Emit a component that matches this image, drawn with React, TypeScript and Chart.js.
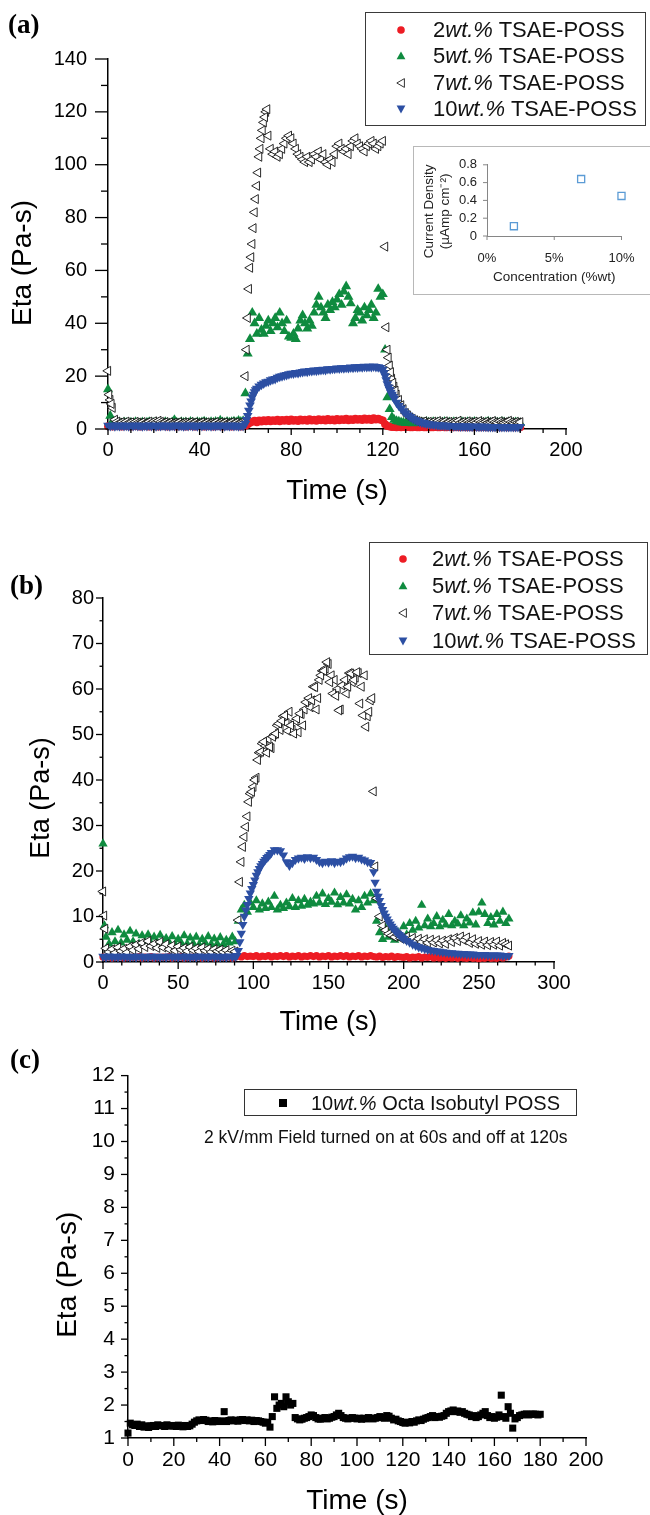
import React, { useEffect, useRef } from "react";
import { Chart, registerables } from "chart.js";

Chart.register(...registerables);

const FONT = "'Liberation Sans', Arial, Helvetica, sans-serif";
const SERIF = "'Liberation Serif', 'Times New Roman', serif";
const RED = "#ed1c24";
const GREEN = "#0f8b3f";
const BLUE = "#2c4fa3";

// ---------------- Panel (a): one sample per second, t = 0..180 s ----------------
const A_T0 = 0;
const A_STEP = 1;
const A_RED = [
  1.0,1.1,0.9,1.0,1.1,1.0,0.9,1.0,1.1,1.0,
  0.9,1.0,1.1,1.0,0.9,1.0,1.1,1.0,0.9,1.0,
  1.1,1.0,0.9,1.0,1.1,1.0,0.9,1.0,1.1,1.0,
  0.9,1.0,1.1,1.0,0.9,1.0,1.1,1.0,0.9,1.0,
  1.1,1.0,0.9,1.0,1.1,1.0,0.9,1.0,1.1,1.0,
  0.9,1.0,1.1,1.0,0.9,1.0,1.1,1.0,0.9,1.0,
  1.2,1.8,2.4,2.7,3.1,2.6,3.2,2.8,3.3,2.9,
  3.4,2.9,3.3,3.0,3.5,2.9,3.4,3.1,3.5,3.0,
  3.6,3.1,3.4,3.0,3.6,3.2,3.5,3.1,3.7,3.2,
  3.5,3.1,3.7,3.3,3.6,3.2,3.8,3.3,3.6,3.2,
  3.8,3.3,3.7,3.4,3.9,3.3,3.7,3.4,3.9,3.5,
  3.8,3.4,4.0,3.5,3.9,3.4,4.1,3.6,3.9,3.5,
  3.2,1.8,1.1,0.9,0.8,0.8,0.7,0.8,0.7,0.8,
  0.7,0.8,0.7,0.7,0.8,0.7,0.7,0.8,0.7,0.7,
  0.8,0.7,0.7,0.8,0.7,0.7,0.8,0.7,0.7,0.8,
  0.7,0.7,0.8,0.7,0.7,0.8,0.7,0.7,0.8,0.7,
  0.7,0.8,0.7,0.7,0.8,0.7,0.7,0.8,0.7,0.7,
  0.8,0.7,0.7,0.8,0.7,0.7,0.8,0.7,0.7,0.8,
  0.7,
];
const A_GREEN = [
  15.0,5.0,3.0,2.6,2.2,2.4,2.1,2.5,2.3,2.2,
  2.4,2.1,2.6,2.3,2.2,2.5,2.1,2.4,2.6,2.2,
  2.3,2.5,2.1,2.4,2.2,2.6,2.3,2.1,2.5,3.4,
  2.4,2.2,2.6,2.3,2.5,2.1,2.7,2.4,2.2,2.6,
  2.3,2.5,2.8,2.4,2.2,2.6,2.3,2.7,2.4,3.2,
  2.5,2.3,2.7,2.4,2.6,2.8,2.5,3.1,2.7,3.0,
  13.5,28.5,34.0,44.0,40.0,36.0,42.0,37.5,36.0,39.0,
  41.0,37.0,40.0,42.0,38.5,44.0,40.0,37.0,41.0,35.0,
  34.5,36.0,34.0,38.0,41.0,43.0,40.0,38.0,41.0,39.0,
  44.0,47.0,50.0,46.0,44.0,42.0,47.0,45.0,48.0,46.0,
  49.0,51.0,47.0,52.0,54.0,50.0,47.5,40.0,42.0,45.0,
  44.0,41.0,46.0,43.0,45.0,47.0,42.0,44.0,53.0,50.0,
  51.0,30.0,12.0,7.5,4.5,3.5,3.0,2.8,2.5,2.4,
  2.2,2.5,2.3,2.1,2.6,2.4,2.2,2.5,2.3,2.7,
  2.4,2.2,2.6,2.3,2.5,2.1,2.4,2.7,2.3,2.5,
  2.2,2.6,2.4,2.3,2.8,2.5,2.2,2.6,2.4,2.3,
  2.7,2.4,2.2,2.6,2.3,2.5,2.8,2.4,2.2,2.6,
  2.4,2.3,2.7,2.5,2.2,2.6,2.4,2.3,2.5,2.4,
  2.2,
];
const A_BLACK = [
  22.0,11.0,8.0,3.5,2.8,2.4,2.6,2.3,2.8,2.4,
  2.5,2.2,2.7,2.4,2.3,2.6,2.2,2.5,2.8,2.4,
  2.9,2.6,3.1,2.7,2.4,2.6,2.3,2.5,2.2,2.4,
  2.3,2.6,2.2,2.5,2.4,2.2,2.6,2.3,2.5,2.2,
  2.4,2.6,2.3,2.5,2.2,2.4,2.3,2.6,2.2,2.5,
  2.3,2.5,2.2,2.4,2.6,2.3,2.5,2.2,2.4,2.3,
  20,42,61,70,82,92,103,110,116,120,
  111,106,104,105,103,104,106,108,110,111,
  110,108,106,104,103,102,101,103,101,102,
  104,103,105,102,104,101,100,102,101,104,
  107,108,106,105,106,104,107,109,110,108,
  107,106,105,107,108,109,108,106,107,108,
  109,69,30,24,19,16,13,11,9,7.5,
  6.0,5.0,4.3,3.8,3.3,3.0,2.8,2.6,2.9,2.5,
  2.7,2.4,2.8,2.5,3.0,2.6,2.4,2.9,2.5,2.7,
  2.4,2.8,2.6,3.1,2.5,2.7,2.4,2.9,2.6,2.5,
  2.8,2.5,3.0,2.6,2.4,2.8,2.5,2.7,3.0,2.6,
  2.4,2.9,2.6,2.5,2.8,3.1,2.6,2.4,2.7,2.5,
  2.6,
];
const A_BLACK_EXTRA_T = [0.5,1.5,60.5,61.5,62.5,63.5,64.5,65.5,66.5,67.5,68.5,69.5,121.5,122.5,123.5,124.5,125.5];
const A_BLACK_EXTRA = [13.0,9.5,30,53,65,76,87,97,106,113,118,121,38.5,27,21.5,17.5,14.5];
const A_BLUE = [
  1.3,1.2,1.4,1.1,1.3,1.2,1.4,1.2,1.3,1.1,
  1.3,1.2,1.4,1.2,1.3,1.1,1.3,1.2,1.4,1.2,
  1.3,1.1,1.3,1.2,1.4,1.2,1.3,1.1,1.3,1.2,
  1.4,1.2,1.3,1.1,1.3,1.2,1.4,1.2,1.3,1.1,
  1.3,1.2,1.4,1.2,1.3,1.1,1.3,1.2,1.4,1.2,
  1.3,1.1,1.3,1.2,1.4,1.2,1.3,1.1,1.3,1.2,
  2.0,5.0,9.0,12.0,14.0,15.3,16.2,16.8,17.3,17.8,
  18.0,18.5,18.8,19.0,19.5,19.8,20.0,20.3,20.5,20.8,
  21.0,21.0,21.3,21.2,21.5,21.6,21.8,21.7,22.0,22.0,
  22.2,22.1,22.3,22.4,22.5,22.4,22.7,22.6,22.8,22.8,
  23.0,22.9,23.1,23.0,23.2,23.1,23.3,23.2,23.4,23.3,
  23.5,23.4,23.6,23.5,23.6,23.5,23.7,23.5,23.4,23.2,
  22.5,20.0,17.0,14.8,13.0,11.5,10.0,8.8,7.8,6.8,
  6.0,5.2,4.6,4.0,3.5,3.1,2.8,2.5,2.3,2.1,
  1.9,1.8,1.7,1.6,1.5,1.4,1.4,1.3,1.3,1.2,
  1.2,1.1,1.1,1.1,1.0,1.0,1.0,1.0,0.9,0.9,
  0.9,0.9,0.9,0.9,0.9,0.9,0.8,0.8,0.8,0.8,
  0.8,0.8,0.8,0.8,0.8,0.8,0.8,0.8,0.8,0.8,
  0.8,
];
const A_BLUE_EXTRA_T = [60.5,61.5,62.5,63.5,64.5,120.5,121.5,122.5,123.5,124.5];
const A_BLUE_EXTRA = [3.5,7.0,10.5,13.0,14.7,21.3,18.5,15.8,13.8,12.2];

// Inset of panel (a)
const INSET_CONC = [2, 7, 10];
const INSET_DENSITY = [0.11, 0.64, 0.45];

// ---------------- Panel (b): one sample every 2 s, t = 0..270 s ----------------
const B_T0 = 0;
const B_STEP = 2;
const B_RED = [
  1.1,1.0,1.2,0.9,1.1,1.0,1.2,0.9,1.1,1.0,
  1.1,1.0,1.2,0.9,1.1,1.0,1.2,0.9,1.1,1.0,
  1.1,1.0,1.2,0.9,1.1,1.0,1.2,0.9,1.1,1.0,
  1.1,1.0,1.2,0.9,1.1,1.0,1.2,0.9,1.1,1.0,
  1.1,1.0,1.2,0.9,1.1,1.3,1.1,1.4,1.2,1.3,
  1.2,1.4,1.1,1.3,1.2,1.4,1.1,1.3,1.2,1.4,
  1.2,1.4,1.1,1.3,1.2,1.4,1.1,1.3,1.2,1.4,
  1.2,1.4,1.1,1.3,1.2,1.4,1.1,1.3,1.2,1.4,
  1.2,1.4,1.1,1.3,1.2,1.4,1.1,1.3,1.2,1.4,
  1.2,1.1,1.3,1.0,1.2,1.1,1.3,1.0,1.2,1.1,
  1.0,1.2,0.9,1.1,1.0,1.2,0.9,1.1,1.0,1.2,
  0.9,1.1,0.9,1.0,0.8,1.0,0.9,1.1,0.8,1.0,
  0.9,0.8,1.0,0.8,0.9,0.7,0.9,0.8,1.0,0.8,
  0.9,0.8,1.0,0.9,1.1,1.3,
];
const B_GREEN = [
  26.0,5.5,4.0,6.5,4.5,7.0,4.2,6.0,4.8,6.8,
  4.5,6.2,4.0,5.8,4.3,6.0,4.1,5.5,4.4,5.9,
  4.0,5.2,4.3,5.6,3.9,5.0,4.2,5.8,4.0,5.3,
  4.1,5.5,3.8,5.0,4.2,5.6,3.9,5.1,4.0,5.4,
  3.9,4.8,4.2,5.5,4.5,9.0,11.5,12.5,11.0,13.0,
  12.0,13.5,11.5,12.8,11.8,13.2,12.0,14.5,11.5,12.5,
  11.8,13.0,12.2,14.0,12.0,13.5,12.3,13.8,12.5,13.2,
  12.8,14.5,13.0,15.0,12.7,14.0,13.2,15.2,12.6,14.2,
  13.0,14.8,12.8,13.8,11.5,13.5,12.0,14.5,13.0,15.0,
  13.5,9.0,6.5,5.0,7.5,5.5,7.0,4.8,6.5,5.2,
  7.8,6.0,8.5,7.0,9.0,7.5,12.5,8.0,9.5,7.8,
  8.5,10.0,7.8,9.2,8.2,10.5,8.0,9.0,8.4,10.2,
  8.0,9.5,8.6,10.8,8.2,11.0,13.0,10.5,8.5,9.8,
  8.2,10.5,9.0,11.0,8.5,9.5,
];
const B_GREEN_EXTRA_T = [1];
const B_GREEN_EXTRA = [8.0];
const B_BLACK = [
  15.5,3.0,2.2,2.8,2.0,3.2,2.4,2.9,2.1,3.4,
  2.6,3.8,2.9,4.2,3.3,4.6,3.5,4.0,3.1,4.4,
  3.2,3.9,2.8,3.6,2.5,3.4,2.7,3.1,2.4,3.3,
  2.6,3.0,2.3,3.2,2.5,2.9,2.2,2.8,2.4,2.7,
  2.2,2.6,2.0,2.5,2.3,9.2,22.0,27.5,32.0,37.0,
  38.5,40.5,46.0,48.0,47.5,49.0,47.0,50.0,52.0,51.0,
  54.0,52.5,55.0,51.0,53.0,50.5,54.5,55.5,57.0,56.0,
  60.5,55.5,62.0,64.0,64.5,65.5,63.0,62.0,60.0,55.5,
  61.0,59.0,63.5,61.5,62.5,63.5,60.5,63.0,54.0,57.5,
  37.5,14.0,10.0,8.0,7.0,6.2,5.8,5.5,6.0,5.2,
  5.0,5.6,4.8,5.3,4.6,5.1,4.4,5.0,4.2,4.9,
  4.3,4.8,4.1,4.7,4.0,5.0,4.4,5.3,4.6,5.6,
  4.8,5.4,4.2,5.0,4.0,4.6,3.8,4.5,3.7,4.4,
  3.8,4.5,3.6,4.2,3.9,3.6,
];
// odd-second readings of the 7wt.% series during the field-on period (t = 91, 93, ... 181 s)
const B_BLACK_ODD_T0 = 91;
const B_BLACK_ODD = [
  17.6,25.3,29.7,35.2,37.4,40.0,44.4,46.2,48.4,46.0,
  47.3,49.5,50.2,52.4,53.0,54.2,50.8,52.0,50.2,53.5,
  54.6,52.0,57.1,58.0,57.5,60.4,58.0,63.0,64.0,65.9,
  61.5,59.0,58.5,55.3,60.8,62.0,60.5,63.4,62.0,63.7,
  56.8,54.2,51.7,55.0,58.0,21.0,
];
const B_BLACK_START_T = [0.7, 1.4];
const B_BLACK_START = [10.2, 7.3];
const B_BLUE = [
  1.2,1.0,1.3,1.1,1.2,1.0,1.3,1.1,1.2,1.0,
  1.2,1.0,1.3,1.1,1.2,1.0,1.3,1.1,1.2,1.0,
  1.2,1.0,1.3,1.1,1.2,1.0,1.3,1.1,1.2,1.0,
  1.2,1.0,1.3,1.1,1.2,1.0,1.3,1.1,1.2,1.0,
  1.2,1.0,1.3,1.1,1.2,2.5,6.3,10.0,12.6,15.1,
  17.0,19.0,20.5,21.6,22.5,23.2,24.0,24.6,24.6,24.4,
  23.5,22.0,21.2,21.8,22.5,22.8,23.0,22.7,23.1,22.9,
  23.0,22.5,22.0,21.8,22.1,21.9,22.2,21.8,22.1,22.0,
  22.3,22.8,23.1,23.2,22.9,23.0,22.6,22.4,22.0,21.8,
  19.8,15.5,13.5,11.5,10.0,8.8,7.8,7.0,6.3,5.7,
  5.1,4.7,4.3,3.9,3.6,3.3,3.1,2.9,2.7,2.6,
  2.5,2.4,2.3,2.2,2.1,2.0,2.0,1.9,1.9,1.8,
  1.8,1.7,1.7,1.7,1.6,1.6,1.6,1.6,1.5,1.5,
  1.5,1.5,1.5,1.4,1.4,1.4,
];
const B_BLUE_RISE_T0 = 89; // odd seconds 89..111
const B_BLUE_RISE = [1.4,4.4,8.2,11.4,13.9,16.1,18.0,19.8,21.1,22.1,22.9,23.6];
const B_BLUE_FALL_T0 = 181; // odd seconds 181..199
const B_BLUE_FALL = [17.5,14.4,12.4,10.7,9.4,8.3,7.4,6.6,6.0,5.4];

// ---------------- Panel (c): one sample per second, t = 0..180 s ----------------
const C_T0 = 0;
const C_STEP = 1;
const C_OCTA = [
  1.15,1.45,1.40,1.38,1.42,1.35,1.40,1.33,1.37,1.32,
  1.36,1.38,1.35,1.40,1.37,1.38,1.35,1.40,1.36,1.38,
  1.37,1.35,1.39,1.36,1.34,1.38,1.35,1.37,1.42,1.48,
  1.52,1.55,1.53,1.56,1.54,1.50,1.52,1.49,1.53,1.51,
  1.50,1.52,1.80,1.50,1.53,1.55,1.52,1.54,1.51,1.55,
  1.56,1.53,1.55,1.52,1.54,1.50,1.53,1.52,1.50,1.48,
  1.45,1.48,1.33,1.65,2.25,1.90,2.00,2.05,1.95,2.25,
  2.10,2.00,2.05,1.62,1.58,1.55,1.57,1.60,1.62,1.65,
  1.70,1.68,1.62,1.58,1.57,1.60,1.62,1.58,1.60,1.63,
  1.65,1.70,1.75,1.68,1.62,1.60,1.58,1.60,1.62,1.60,
  1.58,1.60,1.57,1.60,1.58,1.62,1.60,1.58,1.60,1.62,
  1.65,1.62,1.60,1.68,1.66,1.60,1.55,1.57,1.52,1.50,
  1.47,1.45,1.48,1.46,1.50,1.48,1.52,1.55,1.53,1.57,
  1.60,1.62,1.65,1.68,1.62,1.65,1.63,1.66,1.68,1.75,
  1.80,1.82,1.85,1.80,1.82,1.78,1.80,1.75,1.72,1.70,
  1.65,1.68,1.62,1.65,1.70,1.75,1.80,1.68,1.62,1.65,
  1.60,1.63,1.70,2.30,1.65,1.60,1.95,1.75,1.30,1.58,
  1.62,1.68,1.70,1.72,1.73,1.70,1.72,1.73,1.72,1.70,
  1.72,
];

const LEGEND_TSAE = ["2", "5", "7", "10"];

// ---------------- helpers ----------------
type Pt = { x: number; y: number };
const seq = (t0: number, step: number, vals: number[]): Pt[] =>
  vals.map((v, i) => ({ x: t0 + i * step, y: v }));
const pairs = (ts: number[], vs: number[]): Pt[] => ts.map((t, i) => ({ x: t, y: vs[i] }));

type Sizes = { red: number; green: number; black: number; blue: number };

const axisTicksPlugin = {
  id: "axisTicks",
  afterDraw(chart: any, _args: any, opts: any) {
    const { ctx, chartArea } = chart;
    ctx.save();
    ctx.strokeStyle = opts.color;
    ctx.lineWidth = opts.width;
    ["x", "y"].forEach((id) => {
      const spec = opts[id];
      const scale = chart.scales[id];
      if (!spec || !scale) return;
      const n = Math.round((spec.max - spec.min) / spec.minor);
      for (let i = 0; i <= n; i++) {
        const v = spec.min + i * spec.minor;
        const k = (v - spec.min) / spec.major;
        const isMajor = Math.abs(k - Math.round(k)) < 1e-6;
        const len = isMajor ? spec.majorLen : spec.minorLen;
        const p = scale.getPixelForValue(v);
        ctx.beginPath();
        if (id === "x") {
          ctx.moveTo(p, chartArea.bottom);
          ctx.lineTo(p, chartArea.bottom + len);
        } else {
          ctx.moveTo(chartArea.left, p);
          ctx.lineTo(chartArea.left - len, p);
        }
        ctx.stroke();
      }
    });
    ctx.restore();
  },
};

const rotTitlePlugin = {
  id: "rotTitle",
  afterDraw(chart: any, _args: any, opts: any) {
    const { ctx, chartArea } = chart;
    ctx.save();
    ctx.fillStyle = opts.color;
    ctx.font = `${opts.size}px ${FONT}`;
    const cy = (chartArea.top + chartArea.bottom) / 2 + opts.dy;
    ctx.translate(opts.x, cy);
    ctx.rotate(-Math.PI / 2);
    ctx.textAlign = "center";
    ctx.textBaseline = "middle";
    const lines: string[] = opts.lines;
    for (let i = 0; i < lines.length; i++) ctx.fillText(lines[i], 0, i * opts.lineHeight);
    ctx.restore();
  },
};

type AxisSpec = {
  min: number; max: number; major: number; minor: number; majorLen: number; minorLen: number;
  pad: number; size: number; lineHeight?: number; format?: (v: number) => string;
};
type PanelSpec = {
  left: number; top: number; width: number; height: number;
  area: { left: number; top: number; right: number; bottom: number };
  x: AxisSpec; y: AxisSpec;
  xTitle: { text: string; size: number; padBottom: number };
  yTitle: { lines: string[]; size: number; lineHeight: number; x: number; dy: number };
  axisColor: string; labelColor: string; axisWidth: number; tickWidth: number;
  datasets: any[];
};

function buildConfig(p: PanelSpec): any {
  const a = p.area;
  const tickOpts = (s: AxisSpec) => ({
    stepSize: s.major,
    padding: s.pad,
    autoSkip: false,
    maxRotation: 0,
    minRotation: 0,
    color: p.labelColor,
    font: { family: FONT, size: s.size, lineHeight: s.lineHeight ?? 1.2 },
    callback: s.format ? (v: any) => s.format!(Number(v)) : undefined,
  });
  return {
    type: "scatter",
    data: { datasets: p.datasets },
    plugins: [axisTicksPlugin, rotTitlePlugin],
    options: {
      responsive: false,
      animation: false,
      devicePixelRatio: 1,
      events: [],
      layout: { padding: { left: 0, top: a.top - p.top, right: p.left + p.width - a.right, bottom: 0 } },
      plugins: {
        legend: { display: false },
        tooltip: { enabled: false },
        axisTicks: {
          color: p.axisColor,
          width: p.tickWidth,
          x: { min: p.x.min, max: p.x.max, major: p.x.major, minor: p.x.minor, majorLen: p.x.majorLen, minorLen: p.x.minorLen },
          y: { min: p.y.min, max: p.y.max, major: p.y.major, minor: p.y.minor, majorLen: p.y.majorLen, minorLen: p.y.minorLen },
        },
        rotTitle: { ...p.yTitle, color: p.labelColor },
      },
      scales: {
        x: {
          type: "linear",
          position: "bottom",
          min: p.x.min,
          max: p.x.max,
          grid: { display: false, drawTicks: false },
          border: { display: true, color: p.axisColor, width: p.axisWidth },
          ticks: tickOpts(p.x),
          title: {
            display: true,
            text: p.xTitle.text,
            color: p.labelColor,
            font: { family: FONT, size: p.xTitle.size, lineHeight: 1 },
            padding: { top: 0, bottom: p.xTitle.padBottom },
          },
          afterFit: (s: any) => { s.height = p.top + p.height - a.bottom; },
        },
        y: {
          type: "linear",
          position: "left",
          min: p.y.min,
          max: p.y.max,
          grid: { display: false, drawTicks: false },
          border: { display: true, color: p.axisColor, width: p.axisWidth },
          ticks: tickOpts(p.y),
          title: { display: false },
          afterFit: (s: any) => { s.width = a.left - p.left; },
        },
      },
    },
  };
}

function ChartCanvas({ spec }: { spec: PanelSpec }) {
  const ref = useRef<HTMLCanvasElement>(null);
  useEffect(() => {
    if (!ref.current) return;
    const chart = new Chart(ref.current, buildConfig(spec));
    return () => chart.destroy();
  }, []);
  return (
    <canvas
      ref={ref}
      width={spec.width}
      height={spec.height}
      style={{ position: "absolute", left: spec.left, top: spec.top, width: spec.width, height: spec.height }}
    />
  );
}

// ---------------- panel specs ----------------
const tsaeDatasets = (red: Pt[], green: Pt[], black: Pt[], blue: Pt[], s: Sizes) => [
  { label: "2wt.% TSAE-POSS", data: red, clip: false, order: 3,
    pointStyle: "circle", pointRadius: s.red, pointBackgroundColor: RED, pointBorderWidth: 0 },
  { label: "5wt.% TSAE-POSS", data: green, clip: false, order: 2,
    pointStyle: "triangle", pointRadius: s.green, pointBackgroundColor: GREEN, pointBorderWidth: 0 },
  { label: "7wt.% TSAE-POSS", data: black, clip: false, order: 1,
    pointStyle: "triangle", pointRotation: 270, pointRadius: s.black,
    pointBackgroundColor: "#ffffff", pointBorderColor: "#111111", pointBorderWidth: 0.9 },
  { label: "10wt.% TSAE-POSS", data: blue, clip: false, order: 0,
    pointStyle: "triangle", pointRotation: 180, pointRadius: s.blue, pointBackgroundColor: BLUE, pointBorderWidth: 0 },
];

const PANEL_A: PanelSpec = {
  left: 0, top: 0, width: 650, height: 520,
  area: { left: 108, top: 59, right: 566, bottom: 429 },
  x: { min: 0, max: 200, major: 40, minor: 10, majorLen: 6, minorLen: 4, pad: 9, size: 20 },
  y: { min: 0, max: 140, major: 20, minor: 10, majorLen: 13, minorLen: 7, pad: 21, size: 20 },
  xTitle: { text: "Time (s)", size: 28, padBottom: 15 },
  yTitle: { lines: ["Eta (Pa-s)"], size: 28, lineHeight: 30, x: 23, dy: 19 },
  axisColor: "#000", labelColor: "#000", axisWidth: 1.5, tickWidth: 1.3,
  datasets: tsaeDatasets(
    seq(A_T0, A_STEP, A_RED),
    seq(A_T0, A_STEP, A_GREEN),
    [...seq(A_T0, A_STEP, A_BLACK), ...pairs(A_BLACK_EXTRA_T, A_BLACK_EXTRA)],
    [...seq(A_T0, A_STEP, A_BLUE), ...pairs(A_BLUE_EXTRA_T, A_BLUE_EXTRA)],
    { red: 4, green: 5.8, black: 5.2, blue: 5.6 }
  ),
};

const INSET: PanelSpec = {
  left: 414, top: 147, width: 236, height: 147,
  area: { left: 487, top: 158, right: 633, bottom: 236 },
  x: { min: 0, max: 10, major: 5, minor: 5, majorLen: 4, minorLen: 4, pad: 15.5, size: 13, lineHeight: 1, format: (v) => `${v}%` },
  y: { min: 0, max: 0.8, major: 0.2, minor: 0.2, majorLen: 4, minorLen: 4, pad: 10, size: 13, format: (v) => (Math.abs(v) < 1e-9 ? "0" : v.toFixed(1)) },
  xTitle: { text: "Concentration (%wt)", size: 13.5, padBottom: 9.5 },
  yTitle: { lines: ["Current Density", "(\u00b5Amp cm\u207b\u00b2)"], size: 13.5, lineHeight: 16, x: 15, dy: 11 },
  axisColor: "#868686", labelColor: "#222", axisWidth: 1, tickWidth: 1,
  datasets: [
    {
      label: "Current Density",
      data: pairs(INSET_CONC, INSET_DENSITY),
      clip: false,
      pointStyle: "rect",
      pointRadius: 5,
      pointBackgroundColor: "#ffffff",
      pointBorderColor: "#5b9bd5",
      pointBorderWidth: 1.3,
    },
  ],
};

const PANEL_B: PanelSpec = {
  left: 0, top: 530, width: 650, height: 520,
  area: { left: 103, top: 598, right: 554, bottom: 962 },
  x: { min: 0, max: 300, major: 50, minor: 12.5, majorLen: 7, minorLen: 3.5, pad: 9, size: 20 },
  y: { min: 0, max: 80, major: 10, minor: 5, majorLen: 7, minorLen: 3.5, pad: 9, size: 20 },
  xTitle: { text: "Time (s)", size: 27, padBottom: 13.5 },
  yTitle: { lines: ["Eta (Pa-s)"], size: 27, lineHeight: 30, x: 42, dy: 18 },
  axisColor: "#000", labelColor: "#000", axisWidth: 1.5, tickWidth: 1.3,
  datasets: tsaeDatasets(
    seq(B_T0, B_STEP, B_RED),
    [...seq(B_T0, B_STEP, B_GREEN), ...pairs(B_GREEN_EXTRA_T, B_GREEN_EXTRA)],
    [...seq(B_T0, B_STEP, B_BLACK), ...seq(B_BLACK_ODD_T0, B_STEP, B_BLACK_ODD), ...pairs(B_BLACK_START_T, B_BLACK_START)],
    [...seq(B_T0, B_STEP, B_BLUE), ...seq(B_BLUE_RISE_T0, B_STEP, B_BLUE_RISE), ...seq(B_BLUE_FALL_T0, B_STEP, B_BLUE_FALL)],
    { red: 3.6, green: 5.4, black: 5.2, blue: 5.4 }
  ),
};

const PANEL_C: PanelSpec = {
  left: 0, top: 1050, width: 650, height: 465,
  area: { left: 128, top: 1071, right: 586, bottom: 1438 },
  x: { min: 0, max: 200, major: 20, minor: 10, majorLen: 8, minorLen: 4, pad: 9.5, size: 21 },
  y: { min: 1, max: 12, major: 1, minor: 0.5, majorLen: 7, minorLen: 3.5, pad: 13, size: 21 },
  xTitle: { text: "Time (s)", size: 28, padBottom: 0 },
  yTitle: { lines: ["Eta (Pa-s)"], size: 28, lineHeight: 30, x: 68, dy: 18 },
  axisColor: "#000", labelColor: "#000", axisWidth: 1.5, tickWidth: 1.3,
  datasets: [
    {
      label: "10wt.% Octa Isobutyl POSS",
      data: seq(C_T0, C_STEP, C_OCTA),
      clip: false,
      pointStyle: "rect",
      pointRadius: 5,
      pointBackgroundColor: "#000",
      pointBorderWidth: 0,
    },
  ],
};

// ---------------- legend pieces ----------------
function Marker({ kind }: { kind: string }) {
  let shape: any = null;
  if (kind === "2") shape = <circle cx={7} cy={7} r={3.8} fill={RED} />;
  if (kind === "5") shape = <polygon points="7,2.6 11.4,10.2 2.6,10.2" fill={GREEN} />;
  if (kind === "7") shape = <polygon points="2.8,7 10.4,2.6 10.4,11.4" fill="#fff" stroke="#333" strokeWidth={1} />;
  if (kind === "10") shape = <polygon points="2.6,3.6 11.4,3.6 7,11.4" fill={BLUE} />;
  if (kind === "sq") shape = <rect x={3} y={3} width={8} height={8} fill="#000" />;
  return (
    <svg width={14} height={14} style={{ position: "absolute", left: -7, top: -7 }}>
      {shape}
    </svg>
  );
}

function TsaeLegend({ left, top, width, height, rows, markerX, textX }: {
  left: number; top: number; width: number; height: number; rows: number[]; markerX: number; textX: number;
}) {
  return (
    <div style={{ position: "absolute", left, top, width, height, border: "1px solid #3a3a3a", boxSizing: "border-box", background: "transparent" }}>
      {LEGEND_TSAE.map((w, i) => (
        <React.Fragment key={w}>
          <div style={{ position: "absolute", left: markerX, top: rows[i] }}>
            <Marker kind={w} />
          </div>
          <div
            style={{
              position: "absolute", left: textX, top: rows[i] - 11, fontFamily: FONT, fontSize: 22,
              lineHeight: "22px", whiteSpace: "nowrap", color: "#111",
            }}
          >
            {w}
            <i>wt.%</i> TSAE-POSS
          </div>
        </React.Fragment>
      ))}
    </div>
  );
}

function PanelLabel({ text, left, top }: { text: string; left: number; top: number }) {
  return (
    <div style={{ position: "absolute", left, top, fontFamily: SERIF, fontWeight: "bold", fontSize: 27, lineHeight: "27px", color: "#000" }}>
      {text}
    </div>
  );
}

export default function App() {
  return (
    <div style={{ position: "absolute", left: 0, top: 0, width: 650, height: 1515, overflow: "hidden", background: "#fff" }}>
      <ChartCanvas spec={PANEL_A} />
      <ChartCanvas spec={PANEL_B} />
      <ChartCanvas spec={PANEL_C} />

      <div style={{ position: "absolute", left: 413, top: 146, width: 240, height: 149, border: "1px solid #b8b8b8", boxSizing: "border-box", background: "#fff" }} />
      <ChartCanvas spec={INSET} />

      <PanelLabel text="(a)" left={8} top={11} />
      <PanelLabel text="(b)" left={10} top={572} />
      <PanelLabel text="(c)" left={10} top={1046} />

      <TsaeLegend left={365} top={12} width={281} height={114} rows={[17, 43, 70, 96]} markerX={35} textX={67} />
      <TsaeLegend left={369} top={542} width={279} height={113} rows={[16, 43, 70, 98]} markerX={33} textX={62} />

      <div style={{ position: "absolute", left: 244, top: 1089, width: 333, height: 27, border: "1px solid #333", boxSizing: "border-box" }}>
        <div style={{ position: "absolute", left: 38, top: 13 }}>
          <Marker kind="sq" />
        </div>
        <div style={{ position: "absolute", left: 66, top: 3, fontFamily: FONT, fontSize: 20, lineHeight: "20px", whiteSpace: "nowrap", color: "#111" }}>
          10<i>wt.%</i> Octa Isobutyl POSS
        </div>
      </div>
      <div style={{ position: "absolute", left: 204, top: 1128, fontFamily: FONT, fontSize: 17.5, lineHeight: "18px", whiteSpace: "nowrap", color: "#111" }}>
        2 kV/mm Field turned on at 60s and off at 120s
      </div>
    </div>
  );
}
